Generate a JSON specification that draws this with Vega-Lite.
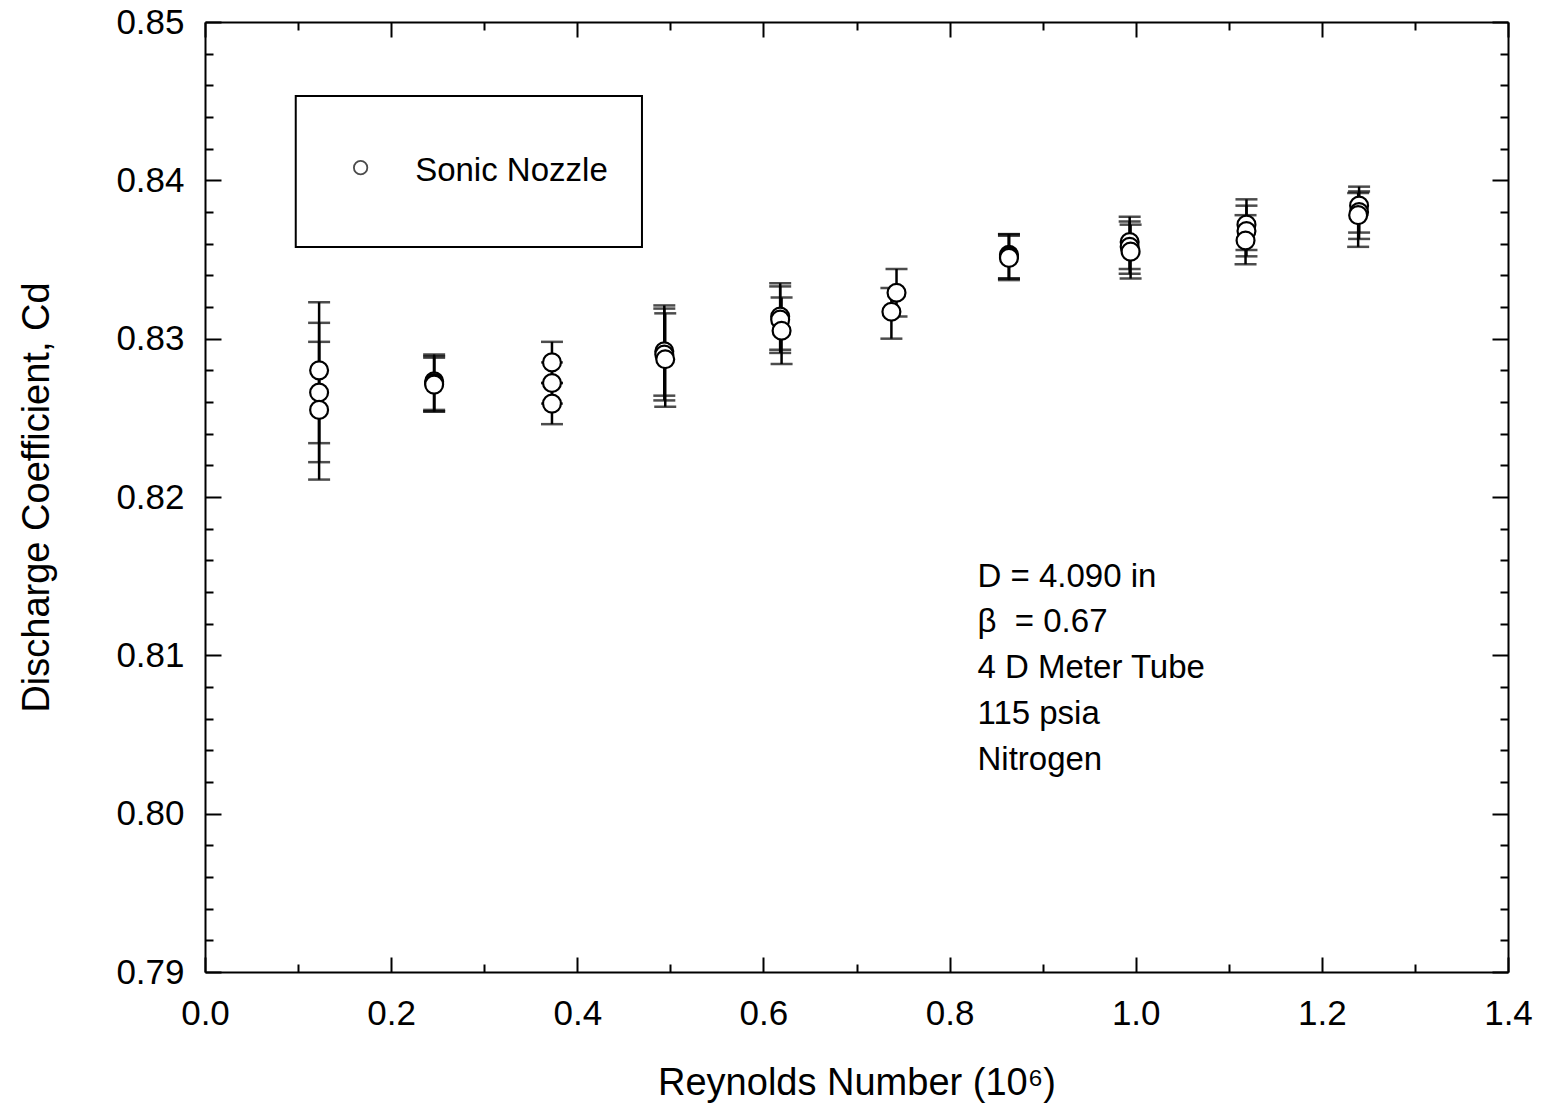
{
  "$schema": "https://vega.github.io/schema/vega-lite/v6.json",
  "width": 1303,
  "height": 950,
  "autosize": "none",
  "padding": {"left": 205, "top": 22, "right": 39, "bottom": 140},
  "background": "white",
  "config": {
    "font": "Liberation Sans",
    "view": {"stroke": null},
    "axis": {
      "domainColor": "black",
      "domainWidth": 2,
      "tickColor": "black",
      "tickWidth": 2,
      "labelColor": "black",
      "titleColor": "black",
      "labelFont": "Liberation Sans",
      "titleFont": "Liberation Sans",
      "labelFontSize": 35,
      "titleFontSize": 38,
      "titleFontWeight": "normal",
      "grid": false
    }
  },
  "datasets": {
    "pts": [
      {"re": 0.1226, "cd": 0.8280, "lo": 0.8234, "hi": 0.8323},
      {"re": 0.1226, "cd": 0.8266, "lo": 0.8222, "hi": 0.8310},
      {"re": 0.1226, "cd": 0.8255, "lo": 0.8211, "hi": 0.8298},
      {"re": 0.2462, "cd": 0.8273, "lo": 0.8255, "hi": 0.8290},
      {"re": 0.2462, "cd": 0.8272, "lo": 0.8254, "hi": 0.8289},
      {"re": 0.2462, "cd": 0.8271, "lo": 0.8254, "hi": 0.8288},
      {"re": 0.3728, "cd": 0.8285, "lo": 0.8272, "hi": 0.8298},
      {"re": 0.3728, "cd": 0.8272, "lo": 0.8259, "hi": 0.8285},
      {"re": 0.3728, "cd": 0.8259, "lo": 0.8246, "hi": 0.8272},
      {"re": 0.4935, "cd": 0.8292, "lo": 0.8264, "hi": 0.8321},
      {"re": 0.4935, "cd": 0.8290, "lo": 0.8261, "hi": 0.8319},
      {"re": 0.4945, "cd": 0.8287, "lo": 0.8257, "hi": 0.8316},
      {"re": 0.6180, "cd": 0.8314, "lo": 0.8293, "hi": 0.8335},
      {"re": 0.6180, "cd": 0.8312, "lo": 0.8291, "hi": 0.8333},
      {"re": 0.6195, "cd": 0.8305, "lo": 0.8284, "hi": 0.8326},
      {"re": 0.7430, "cd": 0.8329, "lo": 0.8314, "hi": 0.8344},
      {"re": 0.7375, "cd": 0.8317, "lo": 0.8300, "hi": 0.8332},
      {"re": 0.8638, "cd": 0.8353, "lo": 0.8338, "hi": 0.8366},
      {"re": 0.8638, "cd": 0.8352, "lo": 0.8338, "hi": 0.8366},
      {"re": 0.8638, "cd": 0.8351, "lo": 0.8337, "hi": 0.8365},
      {"re": 0.9935, "cd": 0.8361, "lo": 0.8344, "hi": 0.8377},
      {"re": 0.9935, "cd": 0.8358, "lo": 0.8341, "hi": 0.8374},
      {"re": 0.9945, "cd": 0.8355, "lo": 0.8338, "hi": 0.8372},
      {"re": 1.1190, "cd": 0.8372, "lo": 0.8356, "hi": 0.8388},
      {"re": 1.1190, "cd": 0.8368, "lo": 0.8352, "hi": 0.8384},
      {"re": 1.1180, "cd": 0.8362, "lo": 0.8347, "hi": 0.8378},
      {"re": 1.2400, "cd": 0.8384, "lo": 0.8367, "hi": 0.8396},
      {"re": 1.2400, "cd": 0.8380, "lo": 0.8363, "hi": 0.8393},
      {"re": 1.2390, "cd": 0.8378, "lo": 0.8358, "hi": 0.8392}
    ],
    "notes": [
      {"x": 0.830, "y": 0.81495, "text": "D = 4.090 in"},
      {"x": 0.830, "y": 0.81211, "text": "β \u00a0= 0.67"},
      {"x": 0.830, "y": 0.80920, "text": "4 D Meter Tube"},
      {"x": 0.830, "y": 0.80629, "text": "115 psia"},
      {"x": 0.830, "y": 0.80339, "text": "Nitrogen"}
    ],
    "legendbox": [
      {"x1": 0.0975, "x2": 0.4695, "y1": 0.84533, "y2": 0.83579}
    ],
    "legenditem": [
      {"x": 0.1672, "y": 0.84080, "label": "Sonic Nozzle", "lx": 0.2258}
    ]
  },
  "resolve": {"scale": {"x": "independent", "y": "independent"}},
  "layer": [
    {
      "encoding": {
        "x": {
          "field": "re", "type": "quantitative",
          "scale": {"domain": [0, 1.4], "nice": false, "zero": false},
          "axis": {
            "orient": "bottom",
            "title": "Reynolds Number (10⁶)",
            "values": [0, 0.1, 0.2, 0.3, 0.4, 0.5, 0.6, 0.7, 0.8, 0.9, 1.0, 1.1, 1.2, 1.3, 1.4],
            "labelExpr": "round(datum.value*10) % 2 == 0 ? format(datum.value, '.1f') : ''",
            "tickSize": {"condition": {"test": "round(datum.value*10) % 2 == 0", "value": -15}, "value": -8},
            "labelPadding": 39,
            "titlePadding": 26,
            "labelFlush": false,
            "labelOverlap": false
          }
        },
        "y": {
          "field": "cd", "type": "quantitative",
          "scale": {"domain": [0.79, 0.85], "nice": false, "zero": false},
          "axis": {
            "orient": "left",
            "title": "Discharge Coefficient, Cd",
            "values": [0.79, 0.792, 0.794, 0.796, 0.798, 0.80, 0.802, 0.804, 0.806, 0.808, 0.81, 0.812, 0.814, 0.816, 0.818, 0.82, 0.822, 0.824, 0.826, 0.828, 0.83, 0.832, 0.834, 0.836, 0.838, 0.84, 0.842, 0.844, 0.846, 0.848, 0.85],
            "labelExpr": "round(datum.value*1000) % 10 == 0 ? format(datum.value, '.2f') : ''",
            "tickSize": {"condition": {"test": "round(datum.value*1000) % 10 == 0", "value": -16}, "value": -8},
            "labelPadding": 37,
            "titlePadding": 59,
            "labelFlush": false,
            "labelOverlap": false
          }
        }
      },
      "layer": [
        {
          "data": {"name": "legendbox"},
          "mark": {"type": "rect", "fill": null, "fillOpacity": 0, "stroke": "black", "strokeWidth": 2},
          "encoding": {
            "x": {"field": "x1", "type": "quantitative"},
            "x2": {"field": "x2"},
            "y": {"field": "y1", "type": "quantitative"},
            "y2": {"field": "y2"}
          }
        },
        {
          "data": {"name": "legenditem"},
          "mark": {"type": "point", "shape": "circle", "filled": false, "stroke": "black", "strokeWidth": 1.8, "size": 180},
          "encoding": {
            "x": {"field": "x", "type": "quantitative"},
            "y": {"field": "y", "type": "quantitative"}
          }
        },
        {
          "data": {"name": "legenditem"},
          "mark": {"type": "text", "align": "left", "baseline": "middle", "fontSize": 33, "font": "Liberation Sans", "color": "black", "dy": 3},
          "encoding": {
            "x": {"field": "lx", "type": "quantitative"},
            "y": {"field": "y", "type": "quantitative"},
            "text": {"field": "label"}
          }
        },
        {
          "data": {"name": "notes"},
          "mark": {"type": "text", "align": "left", "baseline": "middle", "fontSize": 33, "font": "Liberation Sans", "color": "black"},
          "encoding": {
            "x": {"field": "x", "type": "quantitative"},
            "y": {"field": "y", "type": "quantitative"},
            "text": {"field": "text"}
          }
        },
        {
          "data": {"name": "pts"},
          "mark": {"type": "rule", "color": "black", "strokeWidth": 2.5},
          "encoding": {
            "y": {"field": "lo", "type": "quantitative"},
            "y2": {"field": "hi"}
          }
        },
        {
          "data": {"name": "pts"},
          "mark": {"type": "tick", "orient": "horizontal", "color": "black", "size": 22, "thickness": 2.5},
          "encoding": {
            "y": {"field": "hi", "type": "quantitative"}
          }
        },
        {
          "data": {"name": "pts"},
          "mark": {"type": "tick", "orient": "horizontal", "color": "black", "size": 22, "thickness": 2.5},
          "encoding": {
            "y": {"field": "lo", "type": "quantitative"}
          }
        },
        {
          "data": {"name": "pts"},
          "mark": {"type": "point", "shape": "circle", "filled": false, "fill": "white", "fillOpacity": 1, "stroke": "black", "strokeWidth": 2.2, "size": 320, "opacity": 1}
        }
      ]
    },
    {
      "data": {"name": "pts"},
      "mark": {"type": "point", "opacity": 0},
      "encoding": {
        "x": {
          "field": "re", "type": "quantitative",
          "scale": {"domain": [0, 1.4], "nice": false, "zero": false},
          "axis": {
            "orient": "top", "title": null, "labels": false,
            "values": [0, 0.1, 0.2, 0.3, 0.4, 0.5, 0.6, 0.7, 0.8, 0.9, 1.0, 1.1, 1.2, 1.3, 1.4],
            "tickSize": {"condition": {"test": "round(datum.value*10) % 2 == 0", "value": -15}, "value": -8}
          }
        },
        "y": {
          "field": "cd", "type": "quantitative",
          "scale": {"domain": [0.79, 0.85], "nice": false, "zero": false},
          "axis": {
            "orient": "right", "title": null, "labels": false,
            "values": [0.79, 0.792, 0.794, 0.796, 0.798, 0.80, 0.802, 0.804, 0.806, 0.808, 0.81, 0.812, 0.814, 0.816, 0.818, 0.82, 0.822, 0.824, 0.826, 0.828, 0.83, 0.832, 0.834, 0.836, 0.838, 0.84, 0.842, 0.844, 0.846, 0.848, 0.85],
            "tickSize": {"condition": {"test": "round(datum.value*1000) % 10 == 0", "value": -16}, "value": -8}
          }
        }
      }
    }
  ]
}
